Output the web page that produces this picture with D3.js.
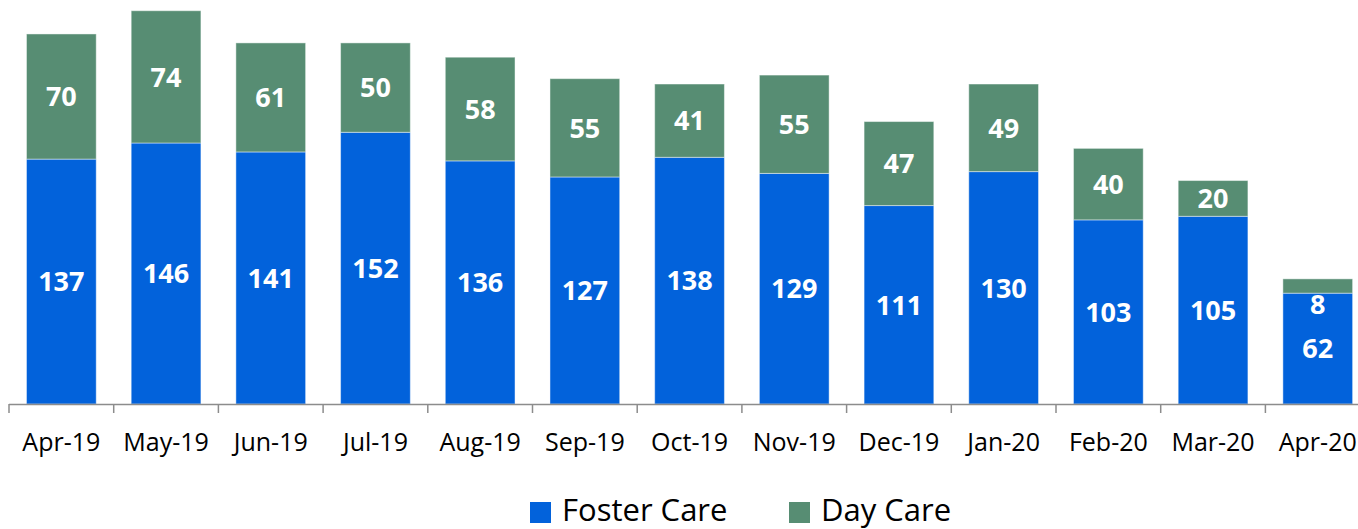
<!DOCTYPE html>
<meta charset="utf-8">
<style>
body { margin: 0; background: #fff; }
text { font-family: "Open Sans", sans-serif; }
</style>
<body>
<script src="https://cdn.jsdelivr.net/npm/d3@7"></script>
<script>
var months = ["Apr-19", "May-19", "Jun-19", "Jul-19", "Aug-19", "Sep-19", "Oct-19",
              "Nov-19", "Dec-19", "Jan-20", "Feb-20", "Mar-20", "Apr-20"];
var fosterCare = [137, 146, 141, 152, 136, 127, 138, 129, 111, 130, 103, 105, 62];
var dayCare = [70, 74, 61, 50, 58, 55, 41, 55, 47, 49, 40, 20, 8];
var seriesNames = ["Foster Care", "Day Care"];
var colors = ["#0262db", "#578d73"];

var width = 1358, height = 529;

var svg = d3.select("body").append("svg")
    .attr("width", width)
    .attr("height", height);

var rows = months.map(function(m, i) {
  return {month: m, "Foster Care": fosterCare[i], "Day Care": dayCare[i]};
});

var x = d3.scaleBand()
    .domain(months)
    .range([9, 9 + 13 * 104.7])
    .paddingInner(0.334)
    .paddingOuter(0.167);

var y = d3.scaleLinear()
    .domain([0, 226])
    .range([404, 0]);

var stack = d3.stack().keys(seriesNames);
var layers = stack(rows);

var layer = svg.selectAll(".layer")
    .data(layers)
  .enter().append("g")
    .attr("class", "layer")
    .attr("fill", function(d, i) { return colors[i]; });

layer.selectAll("rect")
    .data(function(d) { return d; })
  .enter().append("rect")
    .attr("x", function(d) { return x(d.data.month); })
    .attr("y", function(d) { return y(d[1]); })
    .attr("width", x.bandwidth())
    .attr("height", function(d) { return y(d[0]) - y(d[1]); })
    .attr("stroke", "rgba(255,255,255,0.45)")
    .attr("stroke-width", 1);

// value labels (small segments get their label pushed just below)
layer.selectAll("text")
    .data(function(d) { return d.map(function(p) { p.key = d.key; return p; }); })
  .enter().append("text")
    .attr("x", function(d) { return x(d.data.month) + x.bandwidth() / 2; })
    .attr("y", function(d) {
      var top = y(d[1]), bot = y(d[0]);
      if (bot - top < 24) return bot + 11;
      return (top + bot) / 2;
    })
    .attr("dy", "0.36em")
    .attr("text-anchor", "middle")
    .attr("fill", "#fff")
    .attr("font-weight", "bold")
    .attr("font-size", "27px")
    .text(function(d) { return d.data[d.key]; });

// x axis
var step = x.step(), gap = (step - x.bandwidth()) / 2;
var axis = svg.append("g").attr("class", "x axis");
axis.append("line")
    .attr("x1", x.range()[0]).attr("x2", x.range()[1])
    .attr("y1", y(0) + 0.5).attr("y2", y(0) + 0.5)
    .attr("stroke", "#8c8c8c").attr("stroke-width", 1.5);

axis.selectAll(".tick")
    .data(months)
  .enter().append("line")
    .attr("x1", function(d) { return x(d) - gap; })
    .attr("x2", function(d) { return x(d) - gap; })
    .attr("y1", y(0)).attr("y2", y(0) + 9)
    .attr("stroke", "#8c8c8c").attr("stroke-width", 1.5);

axis.selectAll(".label")
    .data(months)
  .enter().append("text")
    .attr("x", function(d) { return x(d) + x.bandwidth() / 2; })
    .attr("y", 451)
    .attr("text-anchor", "middle")
    .attr("font-size", "25px")
    .attr("fill", "#000")
    .text(function(d) { return d; });

// legend
var legendX = [530, 789];
var legend = svg.selectAll(".legend")
    .data(seriesNames)
  .enter().append("g")
    .attr("class", "legend")
    .attr("transform", function(d, i) { return "translate(" + legendX[i] + ",502)"; });

legend.append("rect")
    .attr("width", 21).attr("height", 21)
    .attr("fill", function(d, i) { return colors[i]; });

legend.append("text")
    .attr("x", 32)
    .attr("y", 19)
    .attr("font-size", "31px")
    .attr("fill", "#000")
    .text(function(d) { return d; });
</script>
</body>
